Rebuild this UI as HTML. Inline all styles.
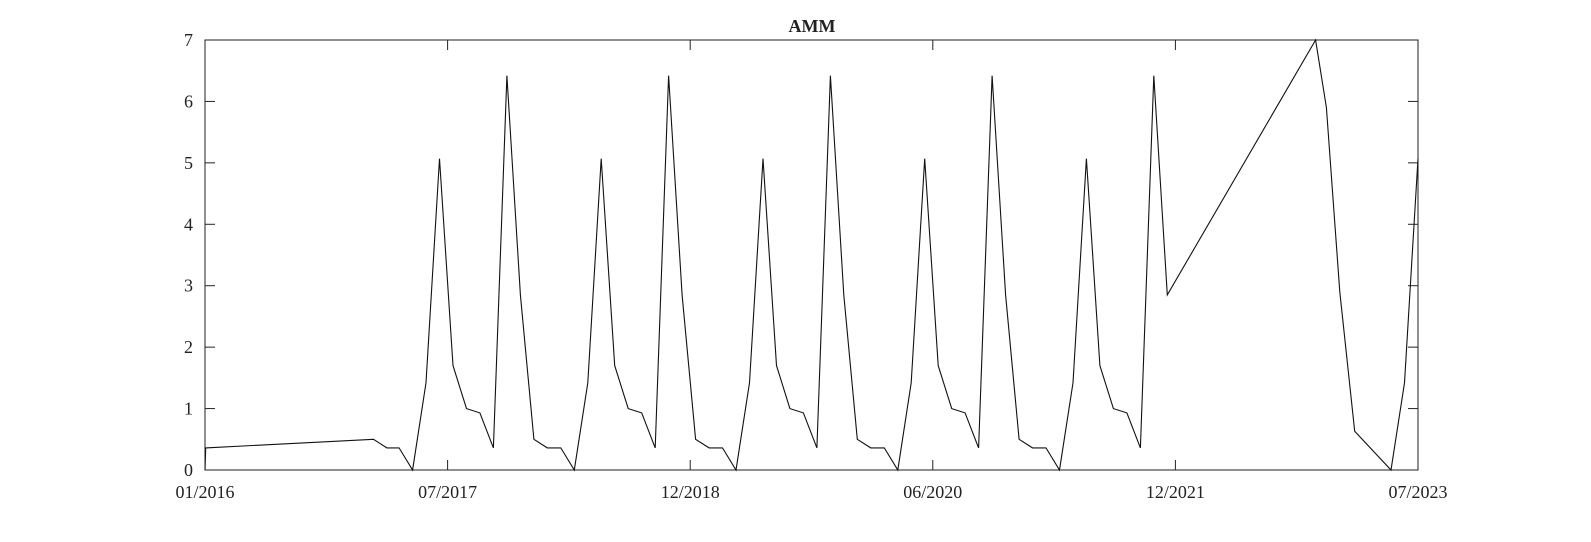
<!DOCTYPE html>
<html><head><meta charset="utf-8"><style>
body{margin:0;background:#fff}
svg text{font-family:"Liberation Serif",serif;fill:#222}
</style></head><body>
<svg width="1591" height="537">
<g id="axes"></g>
<path id="line" fill="none" stroke="#111" stroke-width="1.1"/>
<text x="812" y="32" text-anchor="middle" font-weight="bold" font-size="18">AMM</text>
</svg>
<script>
const months=[0,0.05,12.5,13.5,14.4,
15.4,16.4,17.4,18.4,19.4,20.4,21.4,22.4,23.4,24.4,25.4,26.4,
27.4,28.4,29.4,30.4,31.4,32.4,33.4,34.4,35.4,36.4,37.4,38.4,
39.4,40.4,41.4,42.4,43.4,44.4,45.4,46.4,47.4,48.4,49.4,50.4,
51.4,52.4,53.4,54.4,55.4,56.4,57.4,58.4,59.4,60.4,61.4,62.4,
63.4,64.4,65.4,66.4,67.4,68.4,69.4,70.4,71.4,
82.4,83.2,84.2,85.3,88.0,89.0,90];
const values=[0,0.36,0.5,0.36,0.36,
0,1.42,5.07,1.7,1.0,0.93,0.36,6.42,2.85,0.5,0.36,0.36,
0,1.42,5.07,1.7,1.0,0.93,0.36,6.42,2.85,0.5,0.36,0.36,
0,1.42,5.07,1.7,1.0,0.93,0.36,6.42,2.85,0.5,0.36,0.36,
0,1.42,5.07,1.7,1.0,0.93,0.36,6.42,2.85,0.5,0.36,0.36,
0,1.42,5.07,1.7,1.0,0.93,0.36,6.42,2.85,
7,5.9,2.9,0.63,0,1.42,5.07];
const xTickMonths=[0,18,36,54,72,90];
const xTickLabels=["01/2016","07/2017","12/2018","06/2020","12/2021","07/2023"];
const yTicks=[0,1,2,3,4,5,6,7];
const L=205,R=1418,T=40,B=470,XMAX=90,YMAX=7;
const xs=m=>L+(R-L)*m/XMAX, ys=v=>B-(B-T)*v/YMAX;
const NS="http://www.w3.org/2000/svg",ax=document.getElementById('axes');
function mk(t,a){const e=document.createElementNS(NS,t);for(const k in a)e.setAttribute(k,a[k]);ax.appendChild(e);return e;}
const fr=mk('rect',{x:L,y:T,width:R-L,height:B-T,fill:'none',stroke:'#222','stroke-width':1});


xTickMonths.forEach((m,i)=>{const x=xs(m);
mk('line',{x1:x,x2:x,y1:B,y2:B-10,stroke:'#222'});
mk('line',{x1:x,x2:x,y1:T,y2:T+10,stroke:'#222'});
const t=mk('text',{x:x,y:B+28,'text-anchor':'middle','font-size':18});t.textContent=xTickLabels[i];

});
yTicks.forEach(v=>{const y=ys(v);
mk('line',{x1:L,x2:L+10,y1:y,y2:y,stroke:'#222'});
mk('line',{x1:R,x2:R-10,y1:y,y2:y,stroke:'#222'});
const t=mk('text',{x:L-12,y:y+6,'text-anchor':'end','font-size':18});t.textContent=v;

});
document.getElementById('line').setAttribute('d',months.map((m,i)=>(i?'L':'M')+xs(m).toFixed(1)+','+ys(values[i]).toFixed(1)).join(''));
</script>
</body></html>
